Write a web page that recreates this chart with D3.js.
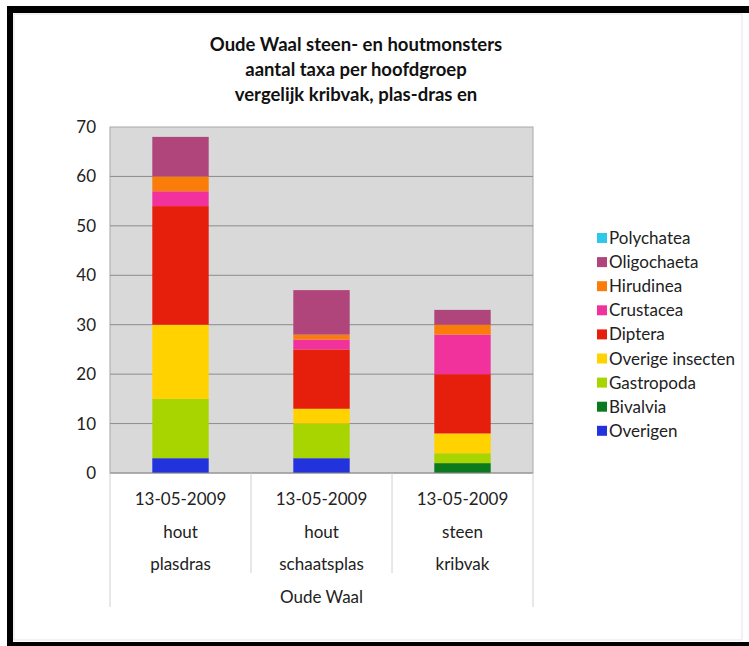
<!DOCTYPE html>
<html>
<head>
<meta charset="utf-8">
<script src="https://cdn.jsdelivr.net/npm/d3@7"></script>
<style>
  body { margin: 0; background: #fff; }
  svg { display: block; font-family: Lato, "Open Sans", sans-serif; }
</style>
</head>
<body>
<div id="chart"></div>
<script>
// data
var titel = ["Oude Waal steen- en houtmonsters", "aantal taxa per hoofdgroep", "vergelijk kribvak, plas-dras en"];
var datums = ["13-05-2009", "13-05-2009", "13-05-2009"];
var substraat = ["hout", "hout", "steen"];
var locaties = ["plasdras", "schaatsplas", "kribvak"];
var gebied = "Oude Waal";

// groepen van onder naar boven
var groepen = ["Overigen", "Bivalvia", "Gastropoda", "Overige insecten", "Diptera", "Crustacea", "Hirudinea", "Oligochaeta", "Polychatea"];
var kleuren = ["#2233dd", "#0b7a1e", "#a8d500", "#ffd200", "#e61e0c", "#f2329c", "#fa7d0a", "#b0457c", "#30c8ea"];

var overigen      = [3, 3, 0];
var bivalvia      = [0, 0, 2];
var gastropoda    = [12, 7, 2];
var overigeIns    = [15, 3, 4];
var diptera       = [24, 12, 12];
var crustacea     = [3, 2, 8];
var hirudinea     = [3, 1, 2];
var oligochaeta   = [8, 9, 3];
var polychatea    = [0, 0, 0];

var yTicks = [0, 10, 20, 30, 40, 50, 60, 70];

var waarden = [overigen, bivalvia, gastropoda, overigeIns, diptera, crustacea, hirudinea, oligochaeta, polychatea];

// tabel voor d3.stack
var tabel = locaties.map(function (l, i) {
  var rij = { idx: i };
  groepen.forEach(function (g, j) { rij[g] = waarden[j][i]; });
  return rij;
});

var width = 749, height = 646;
var plot = { left: 110, right: 533, top: 127, bottom: 473 };
var labelSize = "17px";

var svg = d3.select("#chart").append("svg")
  .attr("width", width)
  .attr("height", height);

// zwarte rand van de foto
svg.append("rect").attr("x", 7).attr("y", 6).attr("width", 760).attr("height", 7).attr("fill", "#000");
svg.append("rect").attr("x", 7).attr("y", 6).attr("width", 6).attr("height", 640).attr("fill", "#000");
svg.append("rect").attr("x", 7).attr("y", 642).attr("width", 760).attr("height", 6).attr("fill", "#000");
svg.append("rect").attr("x", 14).attr("y", 14).attr("width", 728).attr("height", 626)
  .attr("fill", "none").attr("stroke", "#e4e4e4");

// titel
svg.append("g").selectAll("text")
  .data(titel)
  .enter().append("text")
  .attr("x", 356)
  .attr("y", function (d, i) { return 51 + i * 25; })
  .attr("text-anchor", "middle")
  .style("font-size", "18.5px")
  .style("font-weight", "bold")
  .style("fill", "#111")
  .text(function (d) { return d; });

// schalen
var x = d3.scaleBand()
  .domain(d3.range(locaties.length))
  .range([plot.left, plot.right])
  .paddingInner(0)
  .paddingOuter(0);

var y = d3.scaleLinear()
  .domain([0, 70])
  .range([plot.bottom, plot.top]);

// plotvlak
svg.append("rect")
  .attr("x", plot.left).attr("y", plot.top)
  .attr("width", plot.right - plot.left).attr("height", plot.bottom - plot.top)
  .attr("fill", "#d9d9d9")
  .attr("stroke", "#a8a8a8");

// rasterlijnen
svg.append("g").selectAll("line")
  .data(yTicks.slice(1, -1))
  .enter().append("line")
  .attr("x1", plot.left).attr("x2", plot.right)
  .attr("y1", function (d) { return y(d); })
  .attr("y2", function (d) { return y(d); })
  .attr("stroke", "#8c8c8c")
  .attr("stroke-width", 1);

// y-as
var ejeY = d3.axisLeft(y).tickValues(yTicks).tickSize(0).tickPadding(14);
var gy = svg.append("g")
  .attr("transform", "translate(" + plot.left + ",0)")
  .call(ejeY);
gy.select(".domain").remove();
gy.selectAll("text")
  .style("font-family", "Lato, sans-serif")
  .style("font-size", labelSize)
  .style("fill", "#222");

// gestapelde staven
var stack = d3.stack().keys(groepen);
var lagen = stack(tabel);
var bw = x.bandwidth() * 0.4;

svg.append("g").selectAll("g")
  .data(lagen)
  .enter().append("g")
  .attr("fill", function (d, i) { return kleuren[i]; })
  .selectAll("rect")
  .data(function (d) { return d; })
  .enter().append("rect")
  .attr("x", function (d) { return x(d.data.idx) + (x.bandwidth() - bw) / 2; })
  .attr("width", bw)
  .attr("y", function (d) { return y(d[1]); })
  .attr("height", function (d) { return y(d[0]) - y(d[1]); });

// x-as lijn
svg.append("line")
  .attr("x1", plot.left).attr("x2", plot.right)
  .attr("y1", plot.bottom).attr("y2", plot.bottom)
  .attr("stroke", "#8c8c8c");

// scheidingslijnen categorieen
var grenzen = d3.range(locaties.length + 1).map(function (i) {
  return i < locaties.length ? x(i) : plot.right;
});
svg.append("g").selectAll("line")
  .data(grenzen)
  .enter().append("line")
  .attr("x1", function (d) { return d; })
  .attr("x2", function (d) { return d; })
  .attr("y1", plot.bottom)
  .attr("y2", function (d, i) { return (i === 0 || i === grenzen.length - 1) ? 607 : 573; })
  .attr("stroke", "#d0d0d0");

// categorie labels
var rijen = [datums, substraat, locaties];
rijen.forEach(function (rij, r) {
  svg.append("g").selectAll("text")
    .data(rij)
    .enter().append("text")
    .attr("x", function (d, i) { return x(i) + x.bandwidth() / 2; })
    .attr("y", 505 + r * 32.7)
    .attr("text-anchor", "middle")
    .style("font-size", labelSize)
    .style("fill", "#222")
    .text(function (d) { return d; });
});
svg.append("text")
  .attr("x", (plot.left + plot.right) / 2)
  .attr("y", 603)
  .attr("text-anchor", "middle")
  .style("font-size", labelSize)
  .style("fill", "#222")
  .text(gebied);

// legenda (bovenste groep eerst)
var legenda = groepen.slice().reverse();
var lg = svg.append("g").selectAll("g")
  .data(legenda)
  .enter().append("g")
  .attr("transform", function (d, i) { return "translate(597," + (238 + i * 24.1) + ")"; });
lg.append("rect")
  .attr("x", 0).attr("y", -5)
  .attr("width", 10).attr("height", 10)
  .attr("fill", function (d) { return kleuren[groepen.indexOf(d)]; });
lg.append("text")
  .attr("x", 12).attr("y", 6)
  .style("font-size", labelSize)
  .style("fill", "#222")
  .text(function (d) { return d; });
</script>
</body>
</html>
